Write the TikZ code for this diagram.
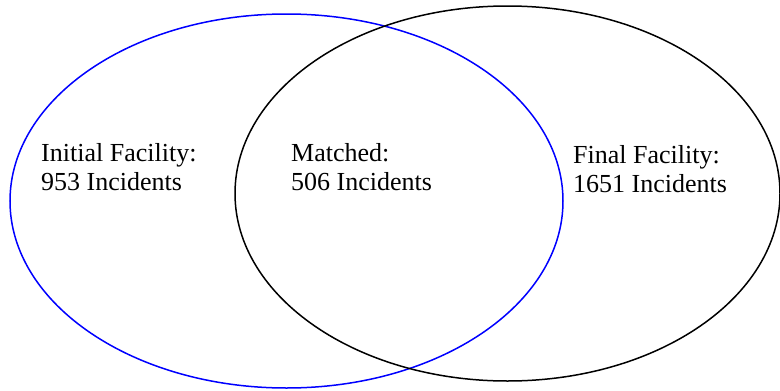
\documentclass[tikz,border=0pt]{standalone}
\usepackage{fontspec}
\setmainfont{Liberation Serif}
\usepackage{xcolor}
\usepackage{tikz}
\tikzset{
  vset/.style={line width=1.5pt},
  vinit/.style={vset, draw=blue},
  vfinal/.style={vset, draw=black},
  vlbl/.style={anchor=base west, align=left, inner sep=0pt,
               font=\fontsize{26}{29}\selectfont},
}

\begin{document}
\begin{tikzpicture}[x=1pt, y=-1pt]

  \useasboundingbox (0,0) rectangle (780,391);

  % conjuntos
  \draw[vinit]  (286.5,201)   ellipse [x radius=276.5, y radius=187];
  \draw[vfinal] (507.5,193.5) ellipse [x radius=272.5, y radius=187.5];

  % legendas
  \node[vlbl] (initial) at (41,190)  {Initial Facility:\\953 Incidents};
  \node[vlbl] (matched) at (291,190) {Matched:\\506 Incidents};
  \node[vlbl] (final)   at (573,192) {Final Facility:\\1651 Incidents};

\end{tikzpicture}
\end{document}
